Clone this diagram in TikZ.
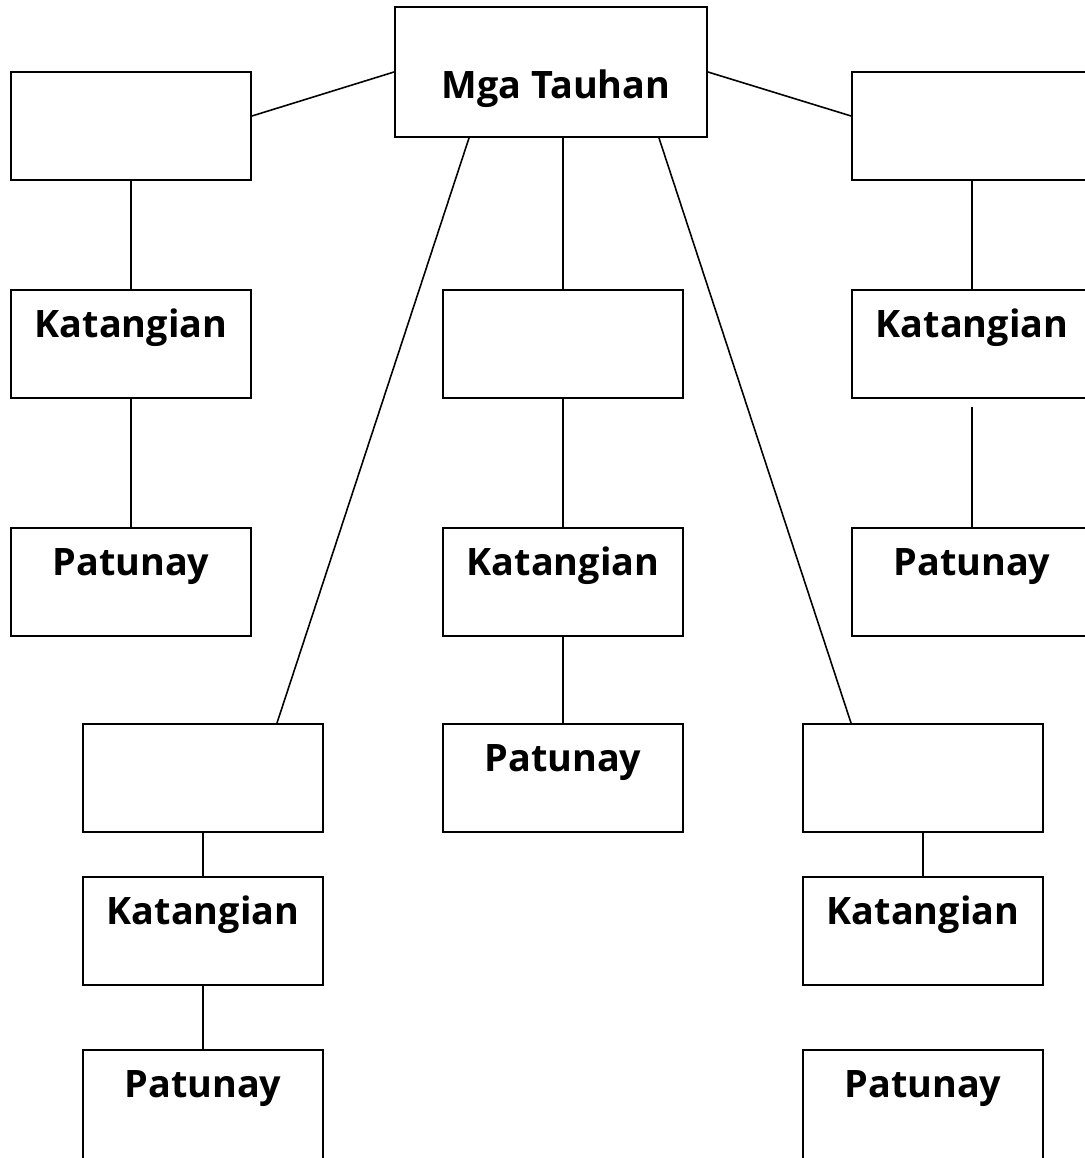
\documentclass[tikz,border=0pt]{standalone}
\usepackage{fontspec}
\setmainfont{Open Sans}
\usepackage{tikz}
\pgfdeclarelayer{edgelayer}
\pgfdeclarelayer{nodelayer}
\pgfsetlayers{edgelayer,nodelayer,main}
\tikzstyle{box}=[rectangle,fill=white,draw=black,line width=1.1pt,minimum width=4.8cm,minimum height=2.16cm,inner sep=0pt]
\tikzstyle{bigbox}=[box,minimum width=6.24cm,minimum height=2.6cm]
\tikzstyle{txt}=[anchor=base,inner sep=0pt,yshift=-0.96cm,font=\fontsize{21.5}{25}\selectfont\bfseries]
\tikzstyle{edge}=[line width=0.9pt]

\begin{document}
\begin{tikzpicture}[x=0.02cm,y=-0.02cm]
        \useasboundingbox (0,0) rectangle (1084,1158);
        \begin{pgfonlayer}{nodelayer}
            \node [style = bigbox, label={[txt, yshift=-0.88cm, xshift=0.1cm]north:Mga Tauhan}] (tauhan) at (551, 72) {};
            \node [style = box] (b1) at (131, 126) {};
            \node [style = box] (b2) at (972, 126) {};
            \node [style = box, label={[txt]north:Katangian}] (k1) at (131, 344) {};
            \node [style = box] (e) at (563, 344) {};
            \node [style = box, label={[txt]north:Katangian}] (k3) at (972, 344) {};
            \node [style = box, label={[txt]north:Patunay}] (p1) at (131, 582) {};
            \node [style = box, label={[txt]north:Katangian}] (k2) at (563, 582) {};
            \node [style = box, label={[txt]north:Patunay}] (p3) at (972, 582) {};
            \node [style = box] (b3) at (203, 778) {};
            \node [style = box, label={[txt]north:Patunay}] (p2) at (563, 778) {};
            \node [style = box] (b4) at (923, 778) {};
            \node [style = box, label={[txt]north:Katangian}] (k4) at (203, 931) {};
            \node [style = box, label={[txt]north:Katangian}] (k5) at (923, 931) {};
            \node [style = box, minimum height=2.4cm, label={[txt]north:Patunay}] (p4) at (203, 1110) {};
            \node [style = box, minimum height=2.4cm, label={[txt]north:Patunay}] (p5) at (923, 1110) {};
            \coordinate (gap) at (972, 407);
        \end{pgfonlayer}

        \begin{pgfonlayer}{edgelayer}
            \draw [edge] (tauhan.west) to ([yshift=0.2cm]b1.east);
            \draw [edge] (tauhan.east) to ([yshift=0.2cm]b2.west);
            \draw [edge] ([xshift=-1.64cm]tauhan.south) to ([xshift=1.48cm]b3.north);
            \draw [edge] ([xshift=2.16cm]tauhan.south) to ([xshift=-1.44cm]b4.north);
            \draw [edge] (e.north |- tauhan.south) to (e.north);
            \draw [edge] (b1) to (k1);
            \draw [edge] (k1) to (p1);
            \draw [edge] (e) to (k2);
            \draw [edge] (k2) to (p2);
            \draw [edge] (b2) to (k3);
            \draw [edge] (gap) to (p3.north);
            \draw [edge] (b3) to (k4);
            \draw [edge] (k4) to (p4);
            \draw [edge] (b4) to (k5);
        \end{pgfonlayer}
    \end{tikzpicture}
\end{document}
